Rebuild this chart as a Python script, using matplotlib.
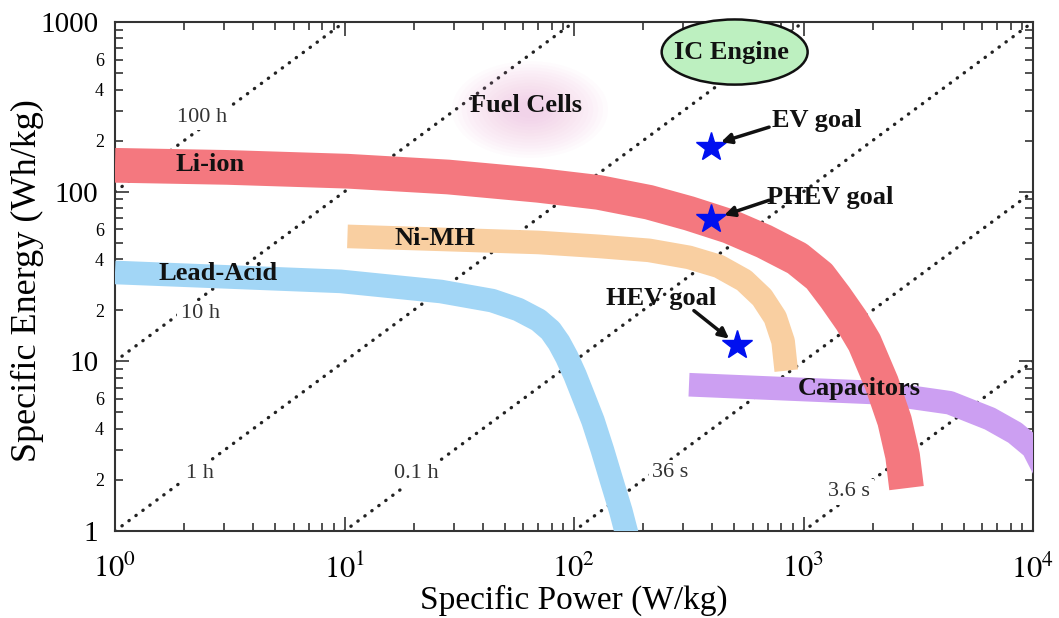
import matplotlib.pyplot as plt
from matplotlib.patches import Ellipse
from matplotlib.ticker import FixedLocator, FixedFormatter

plt.rcParams['font.family'] = ['Liberation Serif', 'DejaVu Serif']
plt.rcParams['mathtext.fontset'] = 'stix'

# band centre lines: specific power (W/kg), specific energy (Wh/kg)
li_p = [1.0, 3.09, 10.3, 28.3, 70, 128, 212, 317, 474, 674, 939, 1172, 1376, 1617, 1844, 2187, 2494, 2703, 2812]
li_e = [143, 139, 132, 122, 109, 99, 86.6, 74.5, 62.5, 50.9, 40.4, 31.7, 23.8, 17.4, 12.9, 7.49, 4.46, 2.77, 1.79]

nimh_p = [10.3, 70, 128, 212, 317, 428, 551, 660, 753, 815, 841]
nimh_e = [54.5, 50.2, 47.6, 45.1, 41.0, 36.3, 30.0, 23.8, 18.1, 13.1, 8.81]

pb_p = [1.0, 9.63, 26.3, 44, 57.2, 70, 79, 86, 93, 101, 110, 121, 133, 146, 160, 173]
pb_e = [33.4, 29.6, 25.8, 22.8, 20.2, 17.5, 15.2, 12.9, 10.6, 8.3, 6.2, 4.46, 3.0, 1.97, 1.31, 0.873]

cap_p = [317, 2144, 4338, 6488, 8343, 10000, 11860]
cap_e = [7.28, 6.53, 5.70, 4.59, 3.79, 3.09, 1.97]

# goals
goal_names = ['EV goal', 'PHEV goal', 'HEV goal']
goal_p = [395, 395, 513]
goal_e = [183, 68.7, 12.4]
goal_text_p = [1148, 1309, 239]
goal_text_e = [264, 92.7, 23.5]
arrow_tail = [(708, 240), (708, 89), (333, 19.9)]
arrow_head = [(437, 196), (451, 72.6), (474, 13.6)]

# constant discharge time lines E = t * P  (t in hours)
times_h = [1000, 100, 10, 1, 0.1, 0.01, 0.001, 0.0001]
time_labels = ['100 h', '10 h', '1 h', '0.1 h', '36 s', '3.6 s']
time_label_p = [2.40, 2.35, 2.35, 20.5, 262, 1585]
time_label_e = [275, 19.1, 2.17, 2.17, 2.20, 1.70]

y_major = [1, 10, 100, 1000]
y_major_labels = ['1', '10', '100', '1000']
y_minor = [m * d for d in [1, 10, 100] for m in range(2, 10)]
y_minor_labels = [str(m) if m in (2, 4, 6) else '' for d in [1, 10, 100] for m in range(2, 10)]
x_major = [1, 10, 100, 1000, 10000]
x_major_labels = ['$10^0$', '$10^1$', '$10^2$', '$10^3$', '$10^4$']
x_minor = [m * d for d in [1, 10, 100, 1000] for m in range(2, 10)]

fig = plt.figure(figsize=(10.59, 6.18), dpi=100)
ax = fig.add_axes([115 / 1059, 87 / 618, 918 / 1059, 509 / 618])
ax.set_xscale('log')
ax.set_yscale('log')
ax.set_xlim(1, 1e4)
ax.set_ylim(1, 1000)

# dotted time lines
for t in times_h:
    ax.plot([1, 1e4], [t * 1, t * 1e4], color='#222222', lw=2.4,
            linestyle=(0, (0.1, 2.5)), dash_capstyle='round', zorder=1)
for lab, p, e in zip(time_labels, time_label_p, time_label_e):
    ax.text(p, e, lab, fontsize=16, color='#333333', ha='center', va='center', zorder=2,
            bbox=dict(boxstyle='square,pad=0.15', fc='white', ec='none'))

# fuel cell glow
for i in range(14):
    k = 1 - i / 14
    ax.add_patch(Ellipse((0.452, 0.828), 0.15 * k + 0.02, 0.17 * k + 0.02,
                         transform=ax.transAxes, color='#e8a6d6', alpha=0.04, lw=0, zorder=1))

# bands
ax.plot(cap_p, cap_e, color='#cc9ff2', lw=17, solid_capstyle='butt', solid_joinstyle='round', zorder=3)
ax.plot(pb_p, pb_e, color='#a2d6f6', lw=17, solid_capstyle='butt', solid_joinstyle='round', zorder=3)
ax.plot(nimh_p, nimh_e, color='#f9cfa1', lw=17, solid_capstyle='butt', solid_joinstyle='round', zorder=3)
ax.plot(li_p, li_e, color='#f4787f', lw=25, solid_capstyle='butt', solid_joinstyle='round', zorder=4)

bold = dict(fontsize=19, fontweight='bold', color='#111111', ha='center', va='center', zorder=6)
ax.text(2.60, 145, 'Li-ion', **bold)
ax.text(24.8, 53.1, 'Ni-MH', **bold)
ax.text(2.82, 33.0, 'Lead-Acid', **bold)
ax.text(1754, 6.9, 'Capacitors', **bold)
ax.text(62.0, 324, 'Fuel Cells', **bold)

# IC engine
ax.add_patch(Ellipse((0.675, 0.941), 0.159, 0.128, transform=ax.transAxes, fc='#bdf0c0',
                     ec='#111111', lw=1.8, zorder=5, clip_on=False))
ax.text(483, 657, 'IC Engine', **bold)

# goals
ax.plot(goal_p, goal_e, linestyle='none', marker='*', ms=22, color='#0010f0', zorder=7)
for name, tp, te, tail, head in zip(goal_names, goal_text_p, goal_text_e, arrow_tail, arrow_head):
    ax.text(tp, te, name, **bold)
    ax.annotate('', xy=head, xytext=tail,
                arrowprops=dict(arrowstyle='-|>,head_length=0.6,head_width=0.3', color='#111111',
                                lw=2.5, shrinkA=0, shrinkB=0), zorder=7)

# axes styling
ax.xaxis.set_major_locator(FixedLocator(x_major))
ax.xaxis.set_major_formatter(FixedFormatter(x_major_labels))
ax.xaxis.set_minor_locator(FixedLocator(x_minor))
ax.xaxis.set_minor_formatter(FixedFormatter([''] * len(x_minor)))
ax.yaxis.set_major_locator(FixedLocator(y_major))
ax.yaxis.set_major_formatter(FixedFormatter(y_major_labels))
ax.yaxis.set_minor_locator(FixedLocator(y_minor))
ax.yaxis.set_minor_formatter(FixedFormatter(y_minor_labels))

ax.tick_params(which='both', direction='in', top=True, right=True, color='#333333', width=1.2)
ax.tick_params(which='major', length=10)
ax.tick_params(which='minor', length=6)
ax.tick_params(axis='x', which='major', labelsize=22, pad=17)
ax.tick_params(axis='y', which='major', labelsize=21, pad=12)
ax.tick_params(axis='y', which='minor', labelsize=13, pad=8)
for s in ax.spines.values():
    s.set_color('#333333')
    s.set_linewidth(1.5)

ax.set_xlabel('Specific Power (W/kg)', fontsize=24, va='center')
ax.xaxis.set_label_coords(0.5, -0.137)
ax.set_ylabel('Specific Energy (Wh/kg)', fontsize=26)
ax.yaxis.set_label_coords(-0.077, 0.493)

fig.savefig('out.png', dpi=100)
